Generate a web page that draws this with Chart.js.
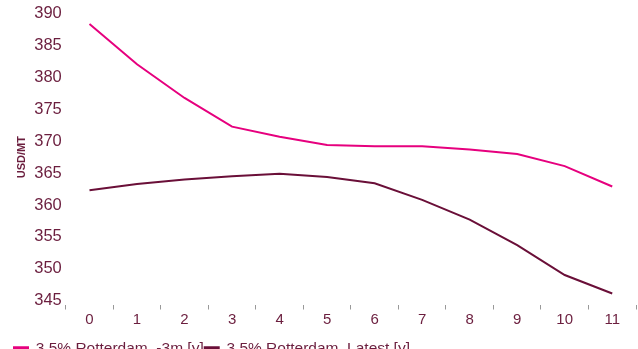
<!DOCTYPE html>
<html>
<head>
<meta charset="utf-8">
<script src="https://cdn.jsdelivr.net/npm/chart.js@4"></script>
<style>
  html, body { margin: 0; padding: 0; background: #fff; overflow: hidden; }
  #wrap { width: 638px; height: 349px; overflow: hidden; }
</style>
</head>
<body>
<div id="wrap"><canvas id="chart" width="638" height="366"></canvas></div>
<script>
// curve points, months out
const tenors = ["0", "1", "2", "3", "4", "5", "6", "7", "8", "9", "10", "11"];
const curve3mAgo = [388.4, 382.1, 376.8, 372.3, 370.7, 369.4, 369.2, 369.2, 368.7, 368.0, 366.1, 362.9];
const curveLatest = [362.3, 363.3, 364.0, 364.5, 364.9, 364.4, 363.4, 360.8, 357.7, 353.7, 349.0, 346.1];
const seriesNames = ["3.5% Rotterdam, -3m [y]", "3.5% Rotterdam, Latest [y]"];

const textColor = "#6b1e3e";
const pink = "#e6007e";
const maroon = "#6a0f38";

Chart.defaults.font.family = "'Liberation Sans', Arial, sans-serif";
Chart.defaults.color = textColor;

new Chart(document.getElementById("chart").getContext("2d"), {
  type: "line",
  data: {
    labels: tenors,
    datasets: [
      { label: seriesNames[0], data: curve3mAgo, borderColor: pink, backgroundColor: pink, borderWidth: 2, pointRadius: 0, tension: 0 },
      { label: seriesNames[1], data: curveLatest, borderColor: maroon, backgroundColor: maroon, borderWidth: 2, pointRadius: 0, tension: 0 },
    ],
  },
  options: {
    responsive: false,
    animation: false,
    layout: { padding: { left: 13, right: 2, top: 4, bottom: 0 } },
    plugins: {
      legend: {
        position: "bottom",
        align: "start",
        labels: { boxWidth: 14, boxHeight: 2, padding: 1, font: { size: 15.5 }, color: textColor },
      },
      tooltip: { enabled: false },
    },
    scales: {
      x: {
        offset: true,
        border: { display: false },
        // little gap between plot bottom and the tick marks
        grid: { offset: true, drawOnChartArea: false, drawTicks: true, tickLength: 9, tickBorderDash: [0, 4, 5, 40], color: "#999" },
        ticks: { font: { size: 15 }, padding: 1 },
        afterFit: (scale) => { scale.height += 10; },
      },
      y: {
        min: 345,
        max: 390,
        border: { display: false },
        grid: { display: false, drawTicks: false },
        ticks: { stepSize: 5, font: { size: 16.5 }, padding: 4 },
        title: { display: true, text: "USD/MT", font: { size: 11, weight: "bold" }, padding: 2 },
      },
    },
  },
});
</script>
</body>
</html>
